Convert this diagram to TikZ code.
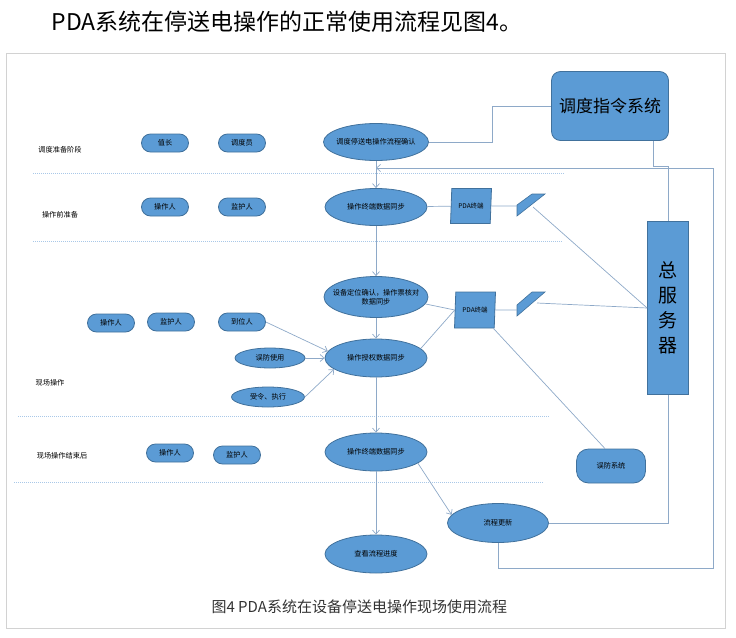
\documentclass[tikz,border=0pt]{standalone}
\usepackage{fontspec}
\usetikzlibrary{arrows.meta,positioning,shapes.geometric}
\newfontfamily\cjk{Noto Sans CJK SC}
\definecolor{nodeblue}{HTML}{5B9BD5}
\definecolor{edgeblue}{HTML}{41719C}
\definecolor{linkblue}{HTML}{8EA9C8}
\definecolor{laneblue}{HTML}{A9C8E8}

\begin{document}
\begin{tikzpicture}[
  x=1pt,y=-1pt,
  flow/.style={-{Straight Barb[length=4pt,width=7pt]},draw=linkblue,line width=0.7pt},
  link/.style={draw=linkblue,line width=0.7pt},
  lane/.style={draw=laneblue,densely dotted,line width=1pt},
  stage/.style={font=\cjk\fontsize{7.2}{8}\selectfont},
  pill/.style={draw=edgeblue,fill=nodeblue,rounded corners=9pt,line width=0.8pt,
    minimum width=47pt,minimum height=18pt,inner sep=0pt,font=\cjk\fontsize{7.2}{8}\selectfont},
  oval/.style={ellipse,draw=edgeblue,fill=nodeblue,line width=0.8pt,inner xsep=-8pt,inner ysep=0pt,
    minimum width=102pt,minimum height=38pt,align=center,font=\cjk\fontsize{7.2}{9}\selectfont},
  small oval/.style={oval,minimum width=70pt,minimum height=20pt},
  pda/.style={trapezium,trapezium left angle=82,trapezium right angle=98,trapezium stretches=true,
    draw=edgeblue,fill=nodeblue,line width=0.8pt,minimum width=41pt,minimum height=35pt,
    inner sep=0pt,font=\cjk\fontsize{6.5}{8}\selectfont},
  antenna/.style={draw=edgeblue,fill=nodeblue,line width=0.6pt},
  system/.style={draw=edgeblue,fill=nodeblue,line width=0.8pt,align=center,inner sep=0pt}
]
\useasboundingbox (0,0) rectangle (736,637);
\draw[gray!35,line width=0.8pt] (6,53) rectangle (725,628);
\node[font=\cjk\fontsize{23}{26}\selectfont,anchor=west] (title) at (48,22)
  {PDA系统在停送电操作的正常使用流程见图4。};
\node[font=\cjk\fontsize{15}{18}\selectfont,text=black!80,anchor=west] (caption) at (208,607)
  {图4 PDA系统在设备停送电操作现场使用流程};

\draw[lane] (33,173) -- (564,173);
\draw[lane] (33,241) -- (562,241);
\draw[lane] (18,416) -- (549,416);
\draw[lane] (14,482) -- (544,482);

\node[stage] (s1) at (60,150) {调度准备阶段};
\node[stage] (s2) at (60,215) {操作前准备};
\node[stage] (s3) at (50,383) {现场操作};
\node[stage] (s4) at (62,456) {现场操作结束后};

\node[pill] (chief) at (165,143) {值长};
\node[pill] (dispatcher) at (242,143) {调度员};
\node[pill] (op1) at (165,207) {操作人};
\node[pill] (guard1) at (242,207) {监护人};
\node[pill] (op2) at (111,323) {操作人};
\node[pill] (guard2) at (171,322) {监护人};
\node[pill] (arrive) at (242,322) {到位人};
\node[pill] (op3) at (170,453) {操作人};
\node[pill] (guard3) at (237,455) {监护人};

\node[oval,minimum width=105pt,minimum height=37pt] (confirm) at (376,142) {调度停送电操作流程确认};
\node[oval,minimum height=37pt] (sync1) at (376,207) {操作终端数据同步};
\node[oval,minimum width=104pt,minimum height=41pt] (locate) at (376,297)
  {设备定位确认，操作票核对\\数据同步};
\node[oval] (auth) at (376,358) {操作授权数据同步};
\node[oval] (sync2) at (376,452) {操作终端数据同步};
\node[oval] (view) at (376,554) {查看流程进度};
\node[oval,minimum width=101pt,minimum height=39pt] (update) at (498,523) {流程更新};
\node[small oval] (misuse) at (270,358) {误防使用};
\node[small oval,minimum width=73pt] (order) at (268,397) {受令、执行};

\node[pda] (pda1) at (471,206) {PDA终端};
\node[pda,minimum height=36pt] (pda2) at (475,310) {PDA终端};
\filldraw[antenna] (517,205) -- (532,194) -- (545,194) -- (517,216) -- cycle;
\filldraw[antenna] (517,305) -- (532,292) -- (545,292) -- (517,316) -- cycle;
\coordinate (ant1in) at (517,206);
\coordinate (ant1out) at (533,207);
\coordinate (ant2in) at (517,310);
\coordinate (ant2out) at (537,303);

\node[system,rounded corners=9pt,minimum width=117pt,minimum height=69pt,
  font=\cjk\fontsize{17}{20}\selectfont] (dispatch) at (610,106) {调度指令系统};
\node[system,minimum width=41pt,minimum height=173pt,
  font=\cjk\fontsize{19}{25}\selectfont] (server) at (668,308) {总\\服\\务\\器};
\node[system,rounded corners=12pt,minimum width=69pt,minimum height=34pt,
  font=\cjk\fontsize{7.2}{8}\selectfont] (wfsys) at (611,466) {误防系统};

\coordinate (merge) at (376,168);
\coordinate (loopbr) at (713,568);

\draw[link] (confirm.east) -- ++(63,0) |- (dispatch.west);
\draw[link] ([xshift=43pt]dispatch.south) -- ++(0,25) -| (server.north);
\draw[flow] (update.south) |- (loopbr) |- (merge);
\draw[link] (update.east) -| (server.south);
\draw[flow] (confirm) -- (sync1);
\draw[flow] (sync1) -- (locate);
\draw[flow] (locate) -- (auth);
\draw[flow] (auth) -- (sync2);
\draw[flow] (sync2) -- (view);
\draw[flow] (sync2.-15) -- (update.170);
\draw[flow] (arrive.east) -- (auth.172);
\draw[flow] (misuse) -- (auth);
\draw[flow] (order.east) -- (auth.195);
\draw[link] (sync1) -- (pda1);
\draw[link] (pda1.east) -- (ant1in);
\draw[link] (ant1out) -- (server.west);
\draw[link] (locate.-8) -- (pda2.west);
\draw[link] (auth.12) -- (pda2.west);
\draw[link] (pda2.east) -- (ant2in);
\draw[link] (ant2out) -- (server.west);
\draw[link] (pda2.south east) -- ([xshift=-6pt]wfsys.north);
\end{tikzpicture}
\end{document}
